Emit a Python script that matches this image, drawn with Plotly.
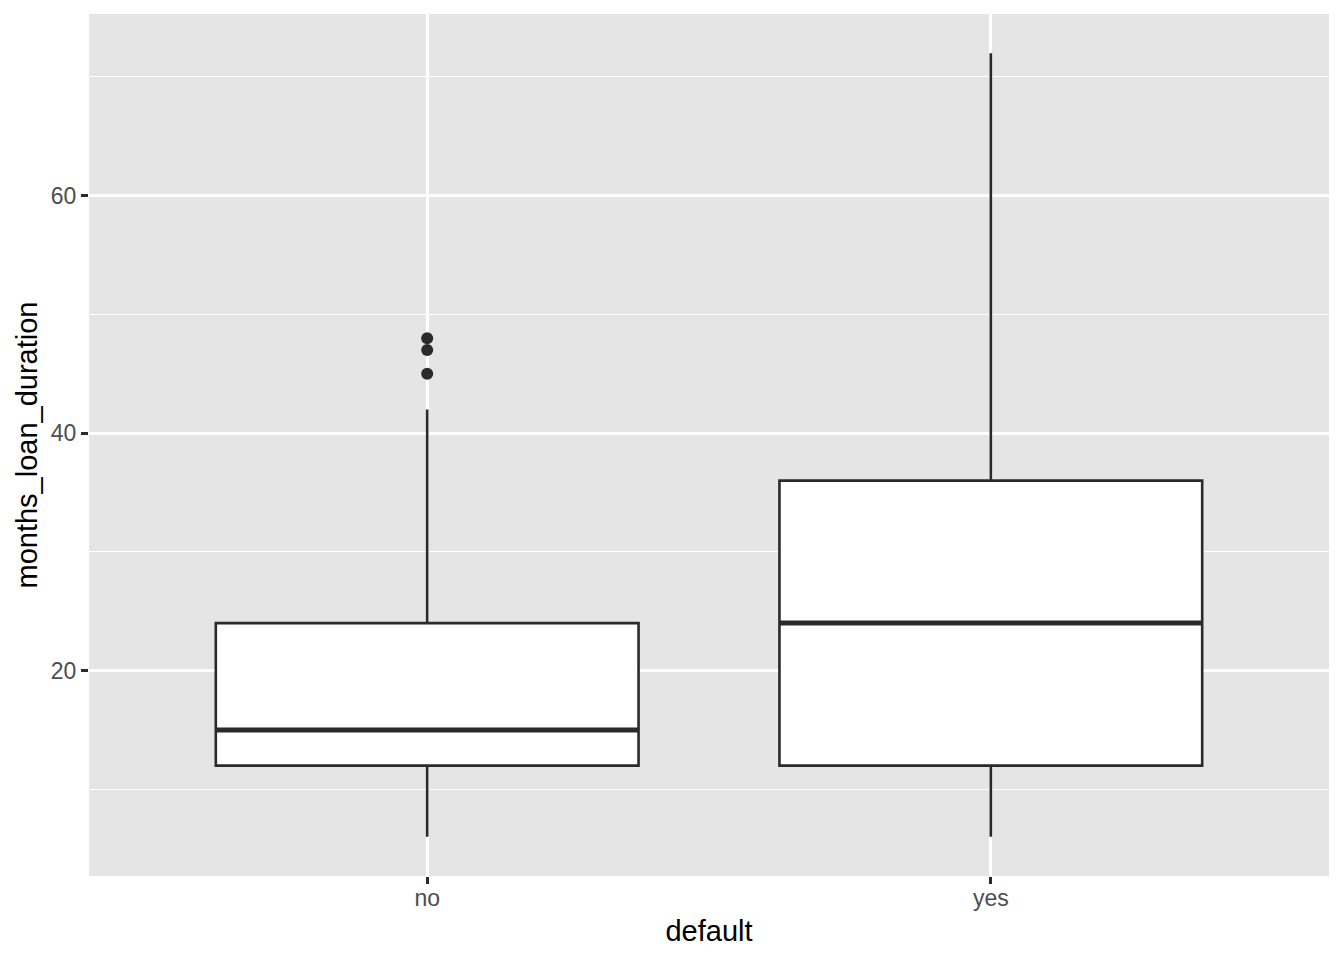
import plotly.graph_objects as go

categories = ["no", "yes"]
q1 = [12, 12]
median = [15, 24]
q3 = [24, 36]
lower = [6, 6]
upper = [42, 72]
outlier_cat = ["no", "no", "no"]
outlier_val = [48, 47, 45]

xpos = {c: i for i, c in enumerate(categories)}
half = 0.375
dark = "#2A2A2A"

fig = go.Figure()
fig.add_trace(go.Box(
    x=[xpos[c] for c in categories], q1=q1, median=median, q3=q3,
    lowerfence=lower, upperfence=upper,
    fillcolor="white", line=dict(color=dark, width=2.6), whiskerwidth=0,
    boxpoints=False, width=0.75, showlegend=False, hoverinfo="skip",
))
# thicker median lines as in ggplot
for c, m in zip(categories, median):
    fig.add_trace(go.Scatter(
        x=[xpos[c] - half, xpos[c] + half], y=[m, m], mode="lines",
        line=dict(color=dark, width=5), showlegend=False, hoverinfo="skip",
    ))
fig.add_trace(go.Scatter(
    x=[xpos[c] for c in outlier_cat], y=outlier_val, mode="markers",
    marker=dict(color=dark, size=12), showlegend=False,
))

font_family = "Liberation Sans, Arial, Helvetica, sans-serif"
fig.update_layout(
    width=1344, height=960,
    margin=dict(l=81, r=23, t=6, b=92),
    paper_bgcolor="white", plot_bgcolor="#E5E5E5",
    font=dict(family=font_family),
    xaxis=dict(
        range=[-0.6, 1.6], tickvals=[0, 1], ticktext=categories,
        showgrid=True, gridcolor="white", gridwidth=2.5, zeroline=False,
        ticks="outside", ticklen=7, tickwidth=2.5, tickcolor=dark,
        tickfont=dict(size=23, color="#4D4D4D"), ticklabelstandoff=-6,
        title=dict(text="default", font=dict(size=29, color="black"), standoff=11),
    ),
    yaxis=dict(
        range=[2.7, 75.3], tickvals=[20, 40, 60],
        showgrid=True, gridcolor="white", gridwidth=2.5, zeroline=False,
        ticks="outside", ticklen=7, tickwidth=2.5, tickcolor=dark,
        tickfont=dict(size=23, color="#4D4D4D"),
        minor=dict(tickvals=[10, 30, 50, 70], showgrid=True, gridcolor="white", gridwidth=1.2, ticks=""),
        title=dict(text="months_loan_duration", font=dict(size=29, color="black"), standoff=4),
    ),
)
fig.write_html("out.html")
